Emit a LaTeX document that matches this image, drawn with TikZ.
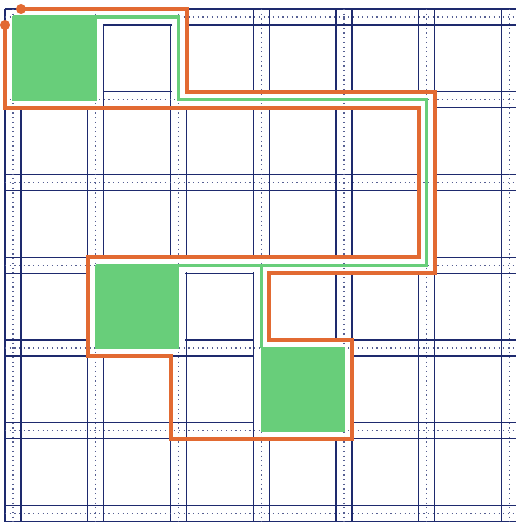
\documentclass[tikz,border=0pt]{standalone}
\definecolor{navy}{RGB}{30,42,110}
\definecolor{gr}{RGB}{104,206,122}
\definecolor{org}{RGB}{226,106,50}
\begin{document}
\begin{tikzpicture}[x=82.75pt,y=-82.75pt,
  solidgrid/.style={navy,line width=1.3pt},
  dotgrid/.style={navy!75,line width=1.2pt,dash pattern=on 1.2pt off 3.5pt},
  halo/.style={white,line width=13.6pt},
  halofill/.style={fill=white},
  greenline/.style={gr,line width=3.4pt},
  greensq/.style={fill=gr,draw=gr,line width=1.5pt},
  orangeline/.style={org,line width=4pt},
  enddot/.style={fill=org}]
\def\d{0.0967}
\def\e{0.082}
\useasboundingbox (-0.1571,-0.2054) rectangle (6.0785,6.1027);
\clip (-0.1571,-0.2054) rectangle (6.0785,6.1027);
% solid grid
\foreach \k in {0,...,6}{
  \draw[solidgrid] ({\k-\d},{-\d}) -- ({\k-\d},{6+\d});
  \draw[solidgrid] ({\k+\d},{-\d}) -- ({\k+\d},{6+\d});
  \draw[solidgrid] ({-\d},{\k-\d}) -- ({6+\d},{\k-\d});
  \draw[solidgrid] ({-\d},{\k+\d}) -- ({6+\d},{\k+\d});
}
% white halo around the green tree
\fill[halofill] ({-\e},{-\e}) rectangle ({1+\e},{1+\e});
\fill[halofill] ({1-\e},{3-\e}) rectangle ({2+\e},{4+\e});
\fill[halofill] ({3-\e},{4-\e}) rectangle ({4+\e},{5+\e});
\draw[halo] (0,0) -- (2,0) -- (2,1) -- (5,1) -- (5,3) -- (1,3);
\draw[halo] (3,3) -- (3,4);
% dotted grid
\foreach \k in {0,...,6}{
  \draw[dotgrid] (\k,{-\d}) -- (\k,{6+\d});
  \draw[dotgrid] ({-\d},\k) -- ({6+\d},\k);
}
% green squares and tree
\filldraw[greensq] (0,0) rectangle (1,1);
\filldraw[greensq] (1,3) rectangle (2,4);
\filldraw[greensq] (3,4) rectangle (4,5);
\draw[greenline] (0,0) -- (2,0) -- (2,1) -- (5,1) -- (5,3) -- (1,3);
\draw[greenline] (3,3) -- (3,4);
% orange boundary path
\coordinate (s) at ({\d},{-\d});
\coordinate (t) at ({-\d},{\d});
\draw[orangeline] (s) -- ({2+\d},{-\d}) -- ({2+\d},{1-\d}) -- ({5+\d},{1-\d})
  -- ({5+\d},{3+\d}) -- ({3+\d},{3+\d}) -- ({3+\d},{4-\d}) -- ({4+\d},{4-\d})
  -- ({4+\d},{5+\d}) -- ({2-\d},{5+\d}) -- ({2-\d},{4+\d}) -- ({1-\d},{4+\d})
  -- ({1-\d},{3-\d}) -- ({5-\d},{3-\d}) -- ({5-\d},{1+\d}) -- ({-\d},{1+\d})
  -- (t);
\fill[enddot] (s) circle (5pt);
\fill[enddot] (t) circle (5pt);
\end{tikzpicture}
\end{document}
